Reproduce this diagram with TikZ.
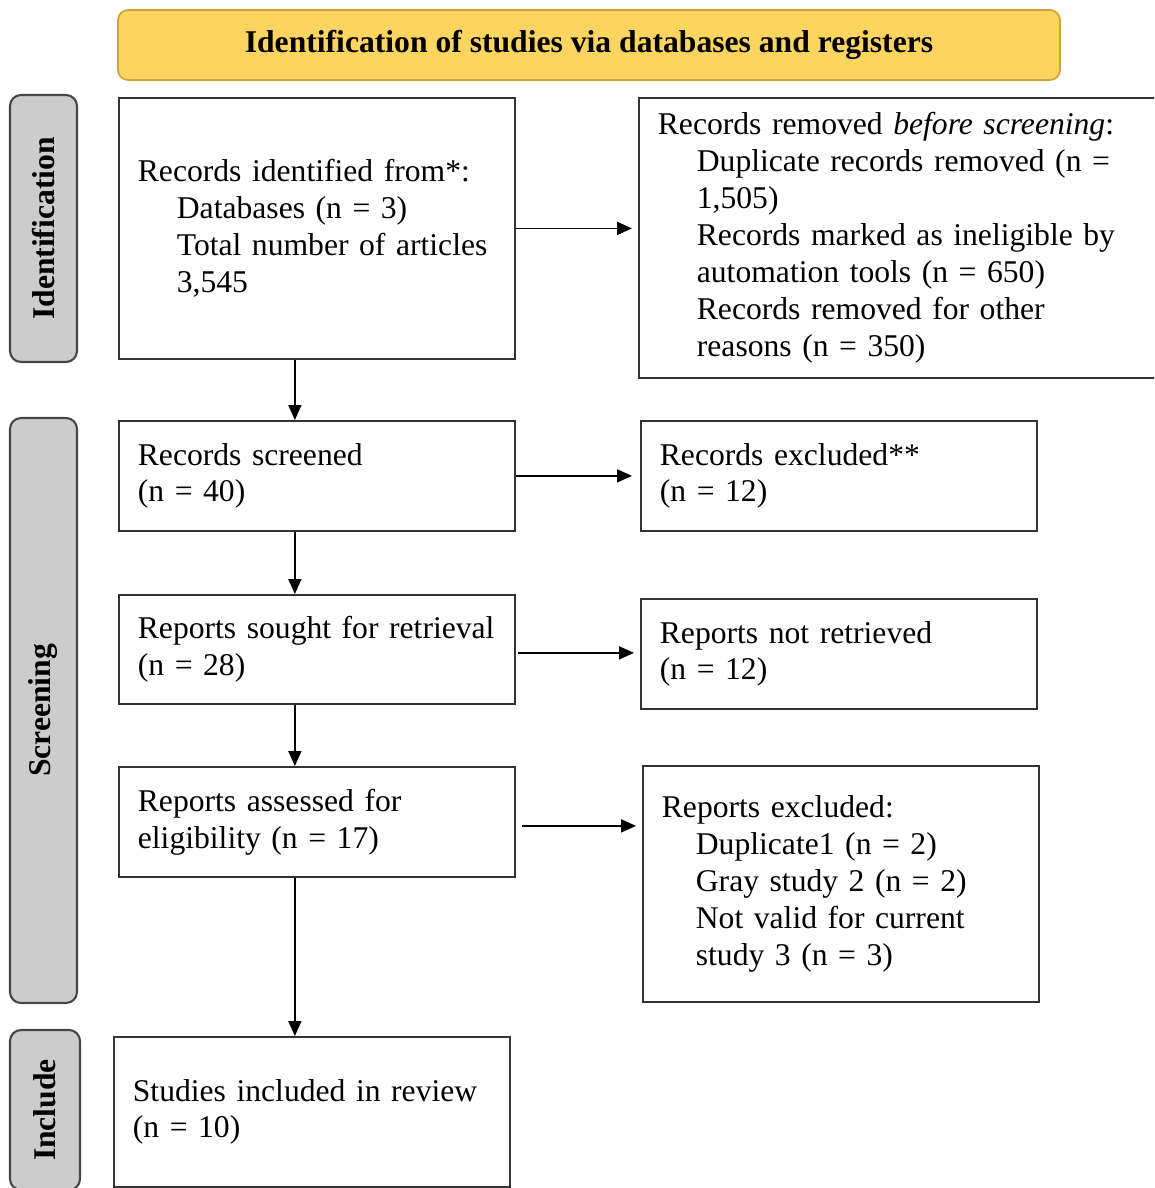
\documentclass[tikz,border=0pt]{standalone}
\usepackage{fontspec}
\setmainfont{Liberation Serif}
\usetikzlibrary{arrows.meta}
\definecolor{bannergold}{RGB}{252,212,96}
\definecolor{bannerrim}{RGB}{205,165,60}
\definecolor{phasegray}{RGB}{204,204,204}
\definecolor{phaserim}{RGB}{70,70,70}

\begin{document}
\begin{tikzpicture}[
  txt/.style={font=\fontsize{18}{21}\selectfont},
  box/.style={txt, draw=black!80, line width=1pt, anchor=north west, align=left, inner xsep=0.38cm, inner ysep=0pt},
  phase/.style={draw=phaserim, fill=phasegray, line width=1.2pt, rounded corners=0.22cm, rotate=90, inner sep=0pt,
    font=\fontsize{18}{21}\selectfont\bfseries},
  flow/.style={-{Triangle[length=0.3cm,width=0.26cm]}, line width=1pt}
]
			\useasboundingbox (0,0) rectangle (23.08,-23.76);
			\clip (0,0) rectangle (23.08,-23.76);
			% banner
			\node[draw=bannerrim, fill=bannergold, line width=1pt, rounded corners=0.2cm, minimum width=18.84cm, minimum height=1.4cm,
				font=\fontsize{18}{21}\selectfont\bfseries] (title) at (11.78,-0.9) {Identification of studies via databases and registers};
			% phases
			\node[phase, minimum width=5.34cm, minimum height=1.34cm] (phaseid) at (0.87,-4.57) {Identification};
			\node[phase, minimum width=11.7cm, minimum height=1.34cm] (phasescr) at (0.87,-14.21) {Screening};
			\node[phase, minimum width=3.2cm, minimum height=1.4cm] (phaseinc) at (0.9,-22.2) {Include};
			% left column
			\node[box, minimum width=7.92cm, minimum height=5.22cm, text width=7.16cm] (records) at (2.36,-1.94) {Records identified from*:\\
				\hspace*{0.78cm}Databases (n = 3)\\
				\hspace*{0.78cm}Total number of articles\\
				\hspace*{0.78cm}3,545};
			\node[box, minimum width=7.92cm, minimum height=2.2cm, text width=7.16cm] (screened) at (2.36,-8.4) {Records screened\\(n = 40)};
			\node[box, minimum width=7.92cm, minimum height=2.18cm, text width=7.16cm] (sought) at (2.36,-11.88) {Reports sought for retrieval\\(n = 28)};
			\node[box, minimum width=7.92cm, minimum height=2.2cm, text width=7.16cm] (assessed) at (2.36,-15.32) {Reports assessed for\\eligibility (n = 17)};
			\node[box, minimum width=7.92cm, minimum height=3.0cm, text width=7.16cm] (included) at (2.26,-20.72) {Studies included in review\\(n = 10)};
			% right column
			\node[box, minimum width=10.6cm, minimum height=5.6cm, text width=9.84cm] (removed) at (12.76,-1.94) {Records removed \textit{before screening}:\\
				\hspace*{0.78cm}Duplicate records removed (n =\\
				\hspace*{0.78cm}1,505)\\
				\hspace*{0.78cm}Records marked as ineligible by\\
				\hspace*{0.78cm}automation tools (n = 650)\\
				\hspace*{0.78cm}Records removed for other\\
				\hspace*{0.78cm}reasons (n = 350)};
			\node[box, minimum width=7.92cm, minimum height=2.2cm, text width=7.16cm] (excluded) at (12.8,-8.4) {Records excluded**\\(n = 12)};
			\node[box, minimum width=7.92cm, minimum height=2.2cm, text width=7.16cm] (notretr) at (12.8,-11.96) {Reports not retrieved\\(n = 12)};
			\node[box, minimum width=7.92cm, minimum height=4.72cm, text width=7.16cm] (repexcl) at (12.84,-15.3) {Reports excluded:\\
				\hspace*{0.68cm}Duplicate1 (n = 2)\\
				\hspace*{0.68cm}Gray study 2 (n = 2)\\
				\hspace*{0.68cm}Not valid for current\\
				\hspace*{0.68cm}study 3 (n = 3)};
			% arrows
			\draw[flow] ([xshift=-0.44cm]records.south) -- ([xshift=-0.44cm]screened.north);
			\draw[flow] ([xshift=-0.44cm]screened.south) -- ([xshift=-0.44cm]sought.north);
			\draw[flow] ([xshift=-0.44cm]sought.south) -- ([xshift=-0.44cm]assessed.north);
			\draw[flow] ([xshift=-0.44cm]assessed.south) -- ([xshift=-0.44cm]assessed.south |- included.north);
			\draw[flow, shorten >=0.12cm] (records.east) -- (records.east -| removed.west);
			\draw[flow, shorten >=0.16cm] (screened.east) -- (screened.east -| excluded.west);
			\draw[flow, shorten <=0.04cm, shorten >=0.12cm] ([yshift=-0.07cm]sought.east) -- ([yshift=-0.07cm]sought.east -| notretr.west);
			\draw[flow, shorten <=0.12cm, shorten >=0.12cm] ([yshift=-0.08cm]assessed.east) -- ([yshift=-0.08cm]assessed.east -| repexcl.west);
		\end{tikzpicture}
\end{document}
